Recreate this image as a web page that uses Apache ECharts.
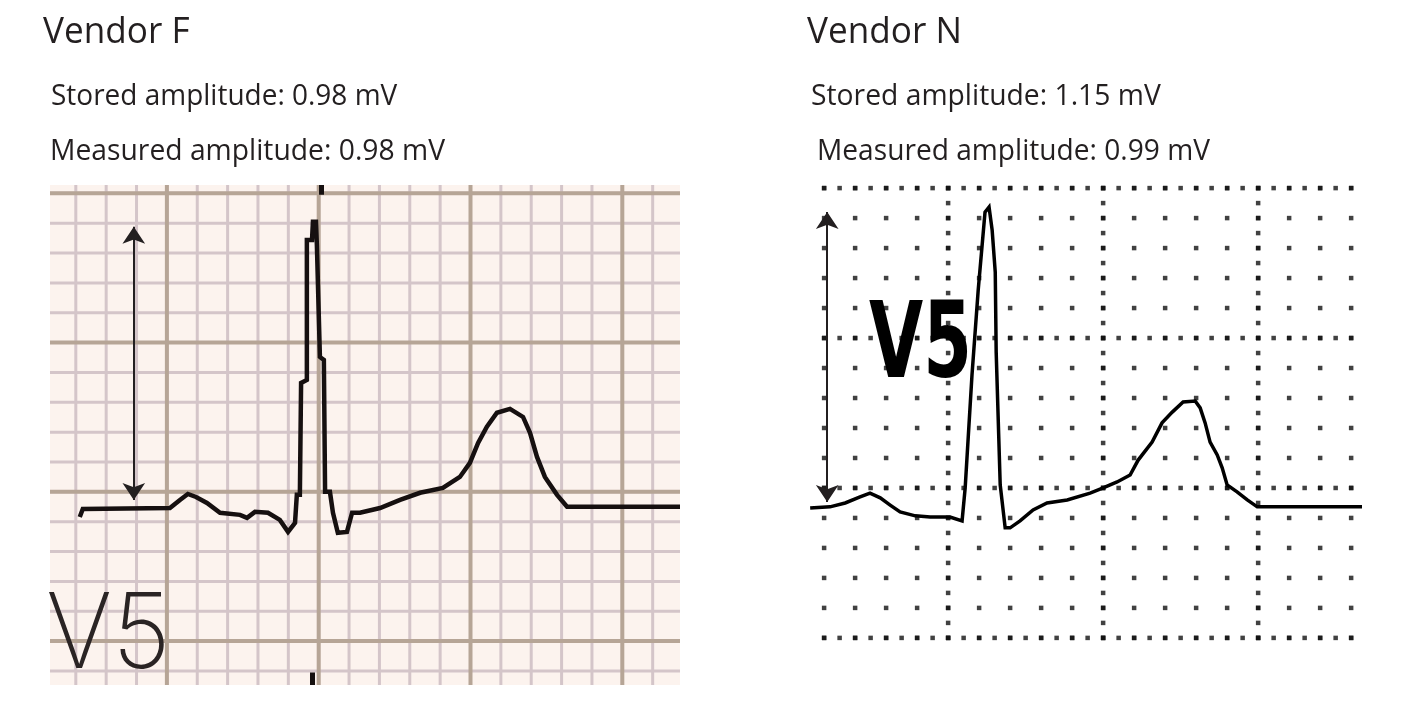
<!DOCTYPE html>
<html>
<head>
    <meta charset="utf-8">
    <title>Vendor F / Vendor N - V5</title>
    <script src="https://cdn.jsdelivr.net/npm/echarts@6/dist/echarts.min.js"></script>
    <style>
        body { margin: 0; padding: 0; background: #fff; overflow: hidden; }
        #chart { width: 1423px; height: 709px; }
    </style>
</head>
<body>
    <div id="chart"></div>
    <script>
        // units: small ECG boxes (mm); x = time, y = amplitude
        const vendorFTrace = [
            [-2.87, -0.84], [-2.77, -0.57], [0.10, -0.54], [0.43, -0.27], [0.69, -0.07],
            [0.96, -0.17], [1.32, -0.37], [1.75, -0.70], [2.41, -0.77], [2.64, -0.87],
            [2.90, -0.67], [3.33, -0.70], [3.72, -0.94], [3.99, -1.34], [4.22, -1.04],
            [4.28, -0.10], [4.38, -0.10], [4.42, 3.65], [4.61, 3.75], [4.61, 8.44],
            [4.78, 8.44], [4.81, 9.05], [4.91, 9.05], [4.94, 8.27], [4.98, 8.27],
            [5.04, 4.52], [5.17, 4.42], [5.21, 0.00], [5.37, 0.00], [5.47, -0.70],
            [5.63, -1.37], [5.93, -1.34], [6.10, -0.70], [6.36, -0.70], [7.02, -0.54],
            [7.68, -0.27], [8.34, -0.03], [9.09, 0.13], [9.65, 0.50], [9.98, 0.97],
            [10.25, 1.64], [10.54, 2.18], [10.87, 2.65], [11.30, 2.78], [11.73, 2.51],
            [11.96, 1.98], [12.19, 1.17], [12.45, 0.50], [12.85, -0.10], [13.18, -0.50],
            [16.90, -0.50]
        ];
        const vendorNTrace = [
            [-4.45, -0.67], [-3.81, -0.63], [-3.32, -0.50], [-2.84, -0.30], [-2.52, -0.17],
            [-2.19, -0.33], [-1.87, -0.57], [-1.55, -0.80], [-1.06, -0.93], [-0.58, -0.97],
            [0.06, -0.97], [0.45, -1.10], [0.55, 0.00], [0.77, 3.77], [0.97, 6.60],
            [1.19, 9.20], [1.32, 9.37], [1.42, 8.60], [1.52, 7.20], [1.55, 4.53],
            [1.68, 0.10], [1.84, -1.33], [2.00, -1.33], [2.32, -1.10], [2.74, -0.73],
            [3.19, -0.50], [3.84, -0.40], [4.58, -0.17], [5.00, 0.00], [5.45, 0.20],
            [5.87, 0.43], [6.13, 0.93], [6.58, 1.53], [6.90, 2.17], [7.23, 2.53],
            [7.58, 2.87], [7.97, 2.90], [8.13, 2.67], [8.29, 2.17], [8.45, 1.53],
            [8.68, 1.10], [8.84, 0.67], [9.00, 0.10], [9.32, -0.13], [9.65, -0.40],
            [9.97, -0.63], [13.35, -0.63]
        ];

        // amplitude arrows [x, yTop, yBottom]
        const vendorFArrow = [-1.09, 8.88, -0.27];
        const vendorNArrow = [-3.90, 9.20, -0.47];
        // little pen marks on the Vendor F strip edges [x, y1, y2]
        const vendorFEdgeMarks = [[5.1, 10.28, 9.95], [4.8, -6.05, -6.47]];

        // paper grid ticks, Vendor F
        const fMinorX = [-3, -2, -1, 0, 1, 2, 3, 4, 5, 6, 7, 8, 9, 10, 11, 12, 13, 14, 15, 16];
        const fMajorX = [0, 5, 10, 15];
        const fMinorY = [-6, -5, -4, -3, -2, -1, 0, 1, 2, 3, 4, 5, 6, 7, 8, 9, 10];
        const fMajorY = [-5, 0, 5, 10];
        // dot grid ticks, Vendor N
        const nMinorX = [-4, -3, -2, -1, 0, 1, 2, 3, 4, 5, 6, 7, 8, 9, 10, 11, 12, 13];
        const nMajorX = [0, 5, 10];
        const nMinorY = [-5, -4, -3, -2, -1, 0, 1, 2, 3, 4, 5, 6, 7, 8, 9, 10];
        const nMajorY = [-5, 0, 5, 10];

        const titles = ['Vendor F', 'Vendor N'];
        const storedText = ['Stored amplitude: 0.98 mV', 'Stored amplitude: 1.15 mV'];
        const measuredText = ['Measured amplitude: 0.98 mV', 'Measured amplitude: 0.99 mV'];

        const chart = echarts.init(document.getElementById('chart'));

        function gridLines(vals, vertical, color, width, z, idx) {
            return {
                type: 'custom',
                xAxisIndex: idx, yAxisIndex: idx,
                silent: true,
                z: z,
                data: vals.map(v => vertical ? [v, 0] : [0, v]),
                renderItem: function (params, api) {
                    const cs = params.coordSys;
                    const p = api.coord([api.value(0), api.value(1)]);
                    const shape = vertical
                        ? { x1: p[0], y1: cs.y, x2: p[0], y2: cs.y + cs.height }
                        : { x1: cs.x, y1: p[1], x2: cs.x + cs.width, y2: p[1] };
                    return { type: 'line', shape: shape, style: { stroke: color, lineWidth: width } };
                }
            };
        }

        // dot grid: dots on minor crossings, denser dots along the major lines
        function halfSteps(ticks) {
            const out = [];
            ticks.forEach((t, i) => {
                out.push(t);
                if (i < ticks.length - 1) out.push((t + ticks[i + 1]) / 2);
            });
            return out;
        }
        const dots = [];
        nMinorX.forEach(x => nMinorY.forEach(y => dots.push([x, y])));
        nMajorY.forEach(y => halfSteps(nMinorX).forEach(x => dots.push([x, y])));
        nMajorX.forEach(x => halfSteps(nMinorY).forEach(y => dots.push([x, y])));

        // y is the top of the text box
        function headerText(txt, x, y, size, sx) {
            return {
                type: 'text', x: x, y: y, scaleX: sx, silent: true,
                style: { text: txt, fill: '#231f20', font: size + 'px "Open Sans"' }
            };
        }

        const option = {
            backgroundColor: '#ffffff',
            animation: false,
            grid: [
                { left: 50, top: 185, width: 630, height: 500, show: true,
                  backgroundColor: '#fcf3ee', borderWidth: 0 },
                { left: 808, top: 183, width: 554, height: 463, show: false }
            ],
            xAxis: [
                { type: 'value', gridIndex: 0, min: -3.85, max: 16.9, show: false },
                { type: 'value', gridIndex: 1, min: -4.52, max: 13.35, show: false }
            ],
            yAxis: [
                { type: 'value', gridIndex: 0, min: -6.47, max: 10.28, show: false },
                { type: 'value', gridIndex: 1, min: -5.27, max: 10.17, show: false }
            ],
            graphic: [
                headerText(titles[0], 43, 14, 37, 0.95),
                headerText(storedText[0], 51, 82, 29, 0.965),
                headerText(measuredText[0], 50, 137, 29, 0.975),
                headerText(titles[1], 807, 14, 37, 0.95),
                headerText(storedText[1], 811, 82, 29, 0.975),
                headerText(measuredText[1], 817, 137, 29, 0.97),
                {
                    type: 'text', x: 46, y: 585, scaleX: 0.97, z: 10, silent: true,
                    style: { text: 'V5', fill: '#2a2424', font: '200 104px Inter' }
                },
                {
                    type: 'text', x: 869, y: 296, scaleX: 0.66, z: 10, silent: true,
                    style: { text: 'V5', fill: '#000000', font: 'bold 106px "DejaVu Sans"' }
                }
            ],
            series: [
                gridLines(fMinorX, true, '#d4c5c9', 3, 1, 0),
                gridLines(fMinorY, false, '#d4c5c9', 3, 1, 0),
                gridLines(fMajorX, true, '#b6a596', 4, 2, 0),
                gridLines(fMajorY, false, '#b6a596', 4, 2, 0),
                {
                    name: 'Vendor F', type: 'line', xAxisIndex: 0, yAxisIndex: 0,
                    data: vendorFTrace, showSymbol: false, z: 5, silent: true,
                    lineStyle: { color: '#161010', width: 4.5, join: 'miter' }
                },
                {
                    type: 'lines', coordinateSystem: 'cartesian2d', xAxisIndex: 0, yAxisIndex: 0,
                    z: 6, silent: true, symbol: ['arrow', 'arrow'], symbolSize: 17,
                    data: [{ coords: [[vendorFArrow[0], vendorFArrow[1]], [vendorFArrow[0], vendorFArrow[2]]] }],
                    lineStyle: { color: '#231f20', width: 2, opacity: 1 }
                },
                {
                    type: 'lines', coordinateSystem: 'cartesian2d', xAxisIndex: 0, yAxisIndex: 0,
                    z: 6, silent: true,
                    data: vendorFEdgeMarks.map(m => ({ coords: [[m[0], m[1]], [m[0], m[2]]] })),
                    lineStyle: { color: '#161010', width: 5, opacity: 1 }
                },
                {
                    type: 'scatter', xAxisIndex: 1, yAxisIndex: 1, data: dots,
                    symbol: 'rect', symbolSize: 4.5, z: 1, silent: true,
                    itemStyle: { color: '#111111' }
                },
                {
                    name: 'Vendor N', type: 'line', xAxisIndex: 1, yAxisIndex: 1,
                    data: vendorNTrace, showSymbol: false, z: 5, silent: true,
                    lineStyle: { color: '#000000', width: 3.5, join: 'miter' }
                },
                {
                    type: 'lines', coordinateSystem: 'cartesian2d', xAxisIndex: 1, yAxisIndex: 1,
                    z: 6, silent: true, symbol: ['arrow', 'arrow'], symbolSize: 17,
                    data: [{ coords: [[vendorNArrow[0], vendorNArrow[1]], [vendorNArrow[0], vendorNArrow[2]]] }],
                    lineStyle: { color: '#231f20', width: 2, opacity: 1 }
                }
            ]
        };

        chart.setOption(option);
    </script>
</body>
</html>
